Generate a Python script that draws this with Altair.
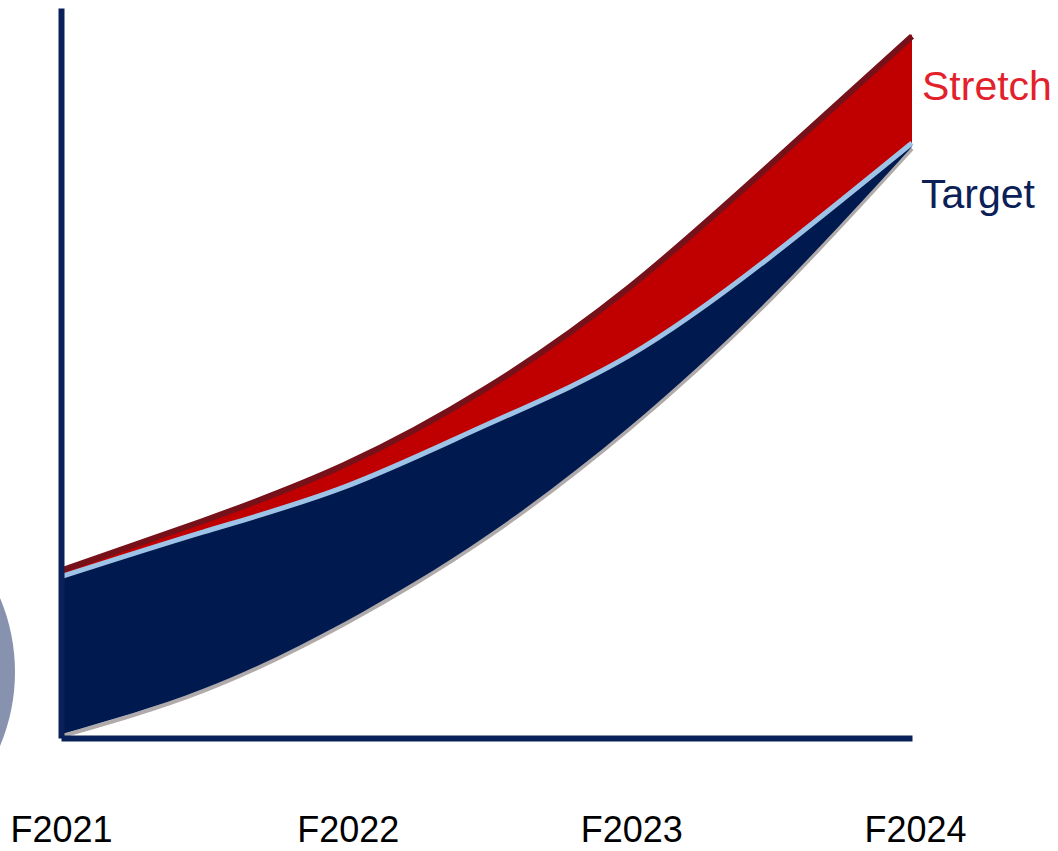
import altair as alt
import pandas as pd

# Fiscal-year labels and sample positions along the x axis (0 = F2021 ... 3 = F2024)
years = ["F2021", "F2022", "F2023", "F2024"]
t = [0, 0.5, 1, 1.5, 2, 2.5, 3]

# Trajectories (index units)
stretch = [23.2, 30.0, 37.7, 48.2, 61.9, 78.8, 96.4]
target = [22.1, 28.2, 34.4, 42.9, 52.3, 65.9, 81.5]
base = [0.5, 6.7, 15.9, 27.7, 42.5, 60.3, 81.0]

df = pd.DataFrame({"t": t, "stretch": stretch, "target": target, "base": base})

NAVY = "#001a4f"
AXIS = "#0a2058"
RED = "#c00000"
DARK_RED = "#76111a"
LIGHT_BLUE = "#9dc3e6"
GRAY = "#b0abaa"
CURVE = "natural"

label_expr = "[" + ",".join(f"'{y}'" for y in years) + "][datum.value]"

x = alt.X(
    "t:Q",
    scale=alt.Scale(domain=[0, 3], nice=False, zero=False),
    axis=alt.Axis(
        values=[0, 1, 2, 3],
        labelExpr=label_expr,
        title=None,
        ticks=False,
        grid=False,
        domainColor=AXIS,
        domainWidth=6,
        labelFont="Liberation Sans",
        labelFontSize=36,
        labelColor="#000000",
        labelPadding=75,
        labelFlush=False,
        labelOffset={
            "condition": [
                {"test": "datum.value >= 1", "value": 3},
            ],
            "value": 0,
        },
        zindex=1,
    ),
)
y_scale = alt.Scale(domain=[0, 100], nice=False, zero=False)
y_axis = alt.Axis(
    title=None, labels=False, ticks=False, grid=False,
    domainColor=AXIS, domainWidth=6, zindex=1,
)

base_chart = alt.Chart(df)

shadow = base_chart.mark_line(
    interpolate=CURVE, color=GRAY, strokeWidth=4, yOffset=2
).encode(x=x, y=alt.Y("base:Q", scale=y_scale, axis=y_axis))

navy_band = base_chart.mark_area(interpolate=CURVE, color=NAVY, opacity=1).encode(
    x=x, y=alt.Y("base:Q", scale=y_scale, axis=y_axis), y2="target:Q"
)

red_band = base_chart.mark_area(interpolate=CURVE, color=RED, opacity=1).encode(
    x=x, y=alt.Y("target:Q", scale=y_scale, axis=y_axis), y2="stretch:Q"
)

stretch_line = base_chart.mark_line(
    interpolate=CURVE, color=DARK_RED, strokeWidth=6, yOffset=2, strokeCap="butt"
).encode(x=x, y=alt.Y("stretch:Q", scale=y_scale, axis=y_axis))

target_line = base_chart.mark_line(
    interpolate=CURVE, color=LIGHT_BLUE, strokeWidth=5, strokeCap="butt"
).encode(x=x, y=alt.Y("target:Q", scale=y_scale, axis=y_axis))

# End-of-line series labels
end = pd.DataFrame({
    "t": [t[-1]],
    "mid": [(stretch[-1] + target[-1]) / 2],
    "target": [target[-1]],
})
stretch_label = alt.Chart(end).mark_text(
    text="Stretch", align="left", baseline="middle", dx=10, dy=-1,
    font="Liberation Sans", fontSize=41, color="#e3212b",
).encode(x=x, y=alt.Y("mid:Q", scale=y_scale, axis=y_axis))

target_label = alt.Chart(end).mark_text(
    text="Target", align="left", baseline="middle", dx=9, dy=53,
    font="Liberation Sans", fontSize=41, color="#0b2057",
).encode(x=x, y=alt.Y("target:Q", scale=y_scale, axis=y_axis))

# Decorative disc at the left margin (symbol size = square of the diameter)
disc = alt.Chart(pd.DataFrame({"k": [0]})).mark_circle(
    color="#8792ae", opacity=1
).encode(x=alt.value(-236), y=alt.value(664), size=alt.value(144400))

chart = (
    alt.layer(disc, shadow, navy_band, red_band, stretch_line, target_line,
              stretch_label, target_label)
    .properties(
        width=851,
        height=730,
        padding={"left": 61, "top": 8, "right": 146, "bottom": 113},
        autosize=alt.AutoSizeParams(type="none"),
        background="#ffffff",
    )
    .configure_view(stroke=None)
)

chart.save("out.html", embed_options={"renderer": "svg", "actions": False})
